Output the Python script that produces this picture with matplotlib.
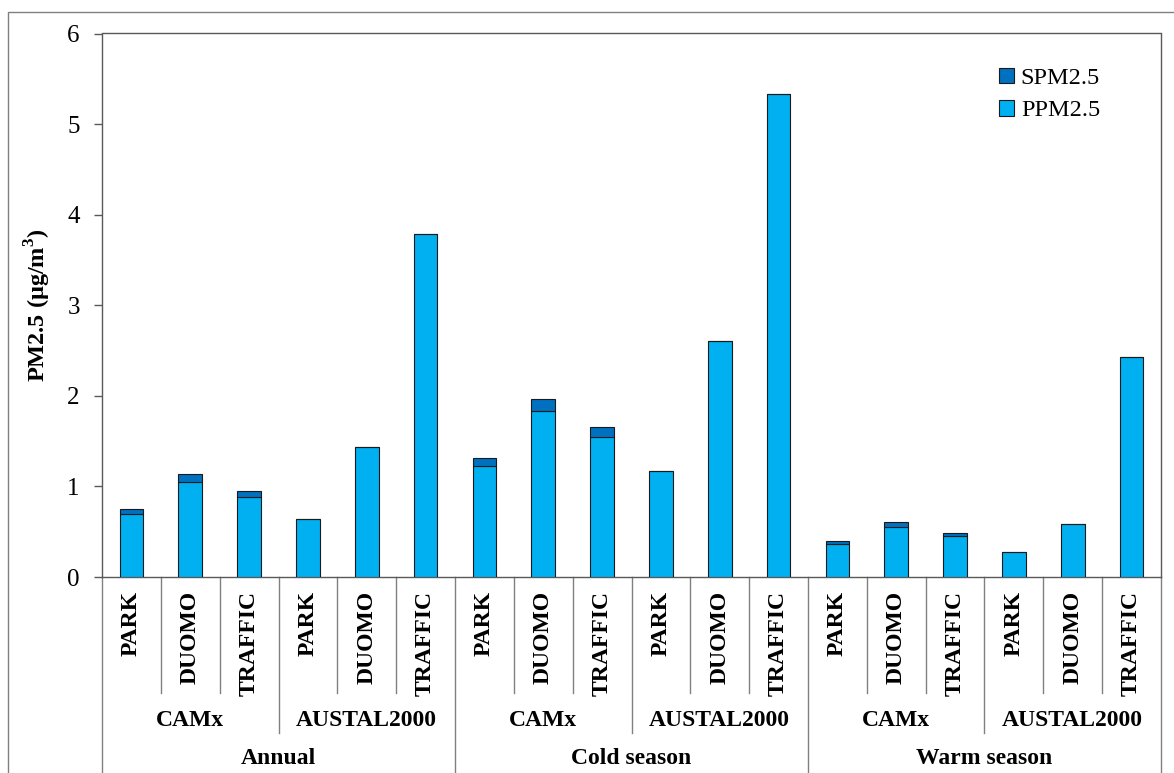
import matplotlib
matplotlib.use("Agg")
import matplotlib.pyplot as plt
from matplotlib.patches import Patch, Rectangle
import numpy as np

plt.rcParams['font.family'] = ['Liberation Serif', 'DejaVu Serif']
plt.rcParams['mathtext.fontset'] = 'custom'
plt.rcParams['mathtext.rm'] = 'Liberation Serif'
plt.rcParams['mathtext.bf'] = 'Liberation Serif:bold'

seasons = ["Annual", "Cold season", "Warm season"]
models = ["CAMx", "AUSTAL2000"]
sites = ["PARK", "DUOMO", "TRAFFIC"]

# PPM2.5 (primary) and SPM2.5 (secondary) values, order: season > model > site
ppm = [0.69, 1.05, 0.88, 0.64, 1.44, 3.79,
       1.22, 1.83, 1.55, 1.17, 2.60, 5.33,
       0.36, 0.55, 0.45, 0.28, 0.58, 2.43]
spm = [0.06, 0.09, 0.07, 0.0, 0.0, 0.0,
       0.09, 0.13, 0.11, 0.0, 0.0, 0.0,
       0.04, 0.06, 0.04, 0.0, 0.0, 0.0]

W, H = 1174, 773
fig = plt.figure(figsize=(W / 100, H / 100), dpi=100)
L, R, T, B = 102, 1161, 33.5, 577
ax = fig.add_axes([L / W, 1 - B / H, (R - L) / W, (B - T) / H])
axh = B - T

n = len(ppm)
x = np.arange(n) + 0.5
ppm_c = '#00B0F0'
spm_c = '#0070C0'
ax.bar(x, ppm, width=0.4, color=ppm_c, edgecolor='#1a1a1a', linewidth=0.8, zorder=3)
ax.bar(x, spm, width=0.4, bottom=ppm, color=spm_c, edgecolor='#1a1a1a', linewidth=0.8, zorder=3)

ax.set_xlim(0, n)
ax.set_ylim(0, 6)
ax.set_yticks(range(0, 7))
ax.set_xticks([])
ax.tick_params(axis='y', labelsize=18, length=6, width=1, color='#595959', pad=10, direction='out')
for s in ax.spines.values():
    s.set_color('#595959')
    s.set_linewidth(1)

ax.set_ylabel('PM2.5 (µg/m$^\\mathbf{3}$)', fontsize=17.5, fontweight='bold')
ax.yaxis.set_label_coords((53 - L) / (R - L), 0.5)

tr = ax.get_xaxis_transform()
def yfrac(py):
    return -(py - B) / axh

sep_c = '#808080'
# separators
for i in range(n + 1):
    if i % 6 == 0:
        yb = yfrac(790)
    elif i % 3 == 0:
        yb = yfrac(733)
    else:
        yb = yfrac(693)
    ax.plot([i, i], [0, yb], transform=tr, color=sep_c, lw=1, clip_on=False)

for i in range(n):
    ax.text(x[i], yfrac(591), sites[i % 3], transform=tr, rotation=90,
            ha='center', va='top', fontsize=17, fontweight='bold')
for j in range(6):
    ax.text(3 * j + 1.5, yfrac(720), models[j % 2], transform=tr,
            ha='center', va='center', fontsize=17, fontweight='bold')
for k in range(3):
    ax.text(6 * k + 3, yfrac(759), seasons[k], transform=tr,
            ha='center', va='center', fontsize=17, fontweight='bold')

handles = [Patch(facecolor=spm_c, edgecolor='#1a1a1a', lw=0.8),
           Patch(facecolor=ppm_c, edgecolor='#1a1a1a', lw=0.8)]
ax.legend(handles, ['SPM2.5', 'PPM2.5'], loc='upper right', frameon=False,
          fontsize=17.5, handlelength=0.6, handleheight=0.6, handletextpad=0.3,
          labelspacing=0.45, bbox_to_anchor=((1122 - L) / (R - L), (B - 46) / axh))

fig.add_artist(Rectangle((8 / W, -0.05), (1180 - 8) / W, 1 - 12 / H + 0.05,
                         transform=fig.transFigure, fill=False, edgecolor='#808080', lw=1))

fig.savefig('out.png', dpi=100)
